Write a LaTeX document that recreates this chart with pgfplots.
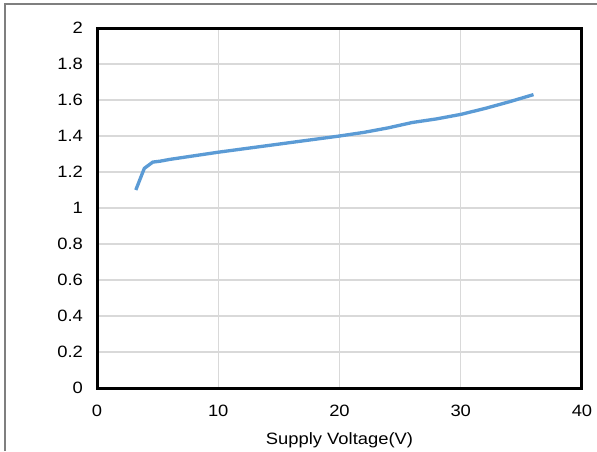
\documentclass[border=0pt]{standalone}
\usepackage{pgfplots}
\pgfplotsset{compat=1.18}
\usepackage{fontspec}
\setmainfont{Liberation Sans}[FakeStretch=1.12]
\definecolor{linec}{HTML}{5B9BD5}
\definecolor{gridc}{HTML}{D9D9D9}
\definecolor{framec}{HTML}{7F7F7F}
\begin{document}
\begin{tikzpicture}
\useasboundingbox (0,0) rectangle (447.75pt,338.25pt);
\draw[framec, line width=1.1pt] (3.75pt,0) -- (3.75pt,335.25pt) -- (460pt,335.25pt);
\begin{axis}[
  at={(72.75pt,47.25pt)}, anchor=south west,
  scale only axis, width=363.75pt, height=270pt,
  xmin=0, xmax=40, ymin=0, ymax=2,
  xtick={0,10,20,30,40},
  ytick={0,0.2,0.4,0.6,0.8,1,1.2,1.4,1.6,1.8,2},
  yticklabels={0,0.2,0.4,0.6,0.8,1,1.2,1.4,1.6,1.8,2},
  xticklabels={0,10,20,30,40},
  /pgf/number format/assume math mode=true,
  tick style={draw=none},
  grid=major,
  major grid style={draw=gridc, line width=1pt},
  axis line style={black, line width=2.25pt},
  tick label style={font=\fontsize{12.3}{14}\selectfont},
  xticklabel style={yshift=-9pt},
  yticklabel style={xshift=-7pt},
  xlabel={Supply Voltage(V)},
  xlabel style={font=\fontsize{12.3}{14}\selectfont, yshift=-5pt},
  clip=false,
]
\addplot[linec, line width=2.5pt, line join=round, line cap=butt] coordinates {
(3.2,1.10) (3.9,1.22) (4.6,1.255) (5.2,1.26) (6,1.27) (8,1.29) (10,1.31)
(12,1.328) (14,1.346) (16,1.364) (18,1.382) (20,1.40) (22,1.42) (24,1.445)
(26,1.475) (28,1.495) (30,1.52) (32,1.553) (34,1.59) (36,1.63)
};
\end{axis}
\end{tikzpicture}
\end{document}
